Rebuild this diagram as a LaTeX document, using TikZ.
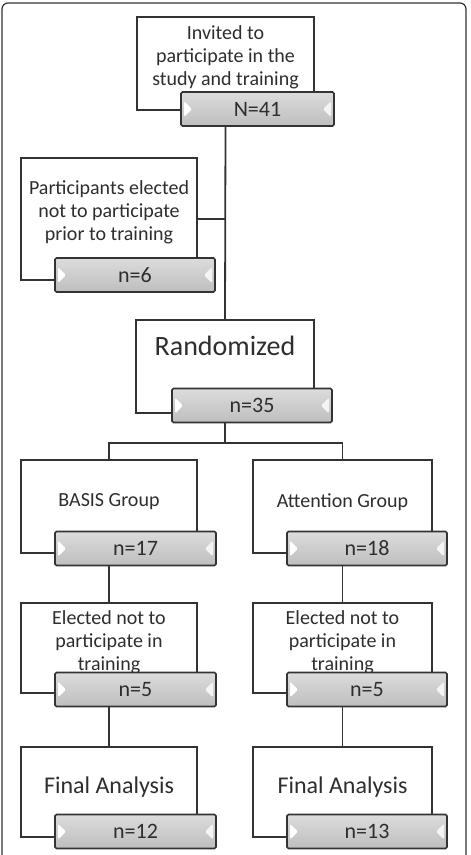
\documentclass[tikz,border=0pt]{standalone}
\usepackage{fontspec}
\setmainfont{Carlito}
\usetikzlibrary{calc}
\definecolor{fLine}{HTML}{333333}
\definecolor{fText}{HTML}{2E2E2E}
\definecolor{fBarTop}{HTML}{DCDCDC}
\definecolor{fBarBot}{HTML}{BEBEBE}
\definecolor{fTip}{HTML}{F4F4F4}

\begin{document}
\begin{tikzpicture}[x=1pt, y=-1pt,
      stagebox/.style={rectangle, draw=fLine, line width=1.4pt, fill=white,
                       inner sep=0pt},
      stagetxt/.style={align=center, text=fText, inner sep=0pt,
                       font=\fontsize{20}{23}\selectfont},
      countbar/.style={rectangle, draw=fLine, line width=1.6pt,
                       rounded corners=1.5pt, minimum height=34pt, inner sep=0pt,
                       top color=fBarTop, bottom color=fBarBot, text=fText,
                       font=\fontsize{22}{24}\selectfont,
                       path picture={
                         \fill[white] ($(path picture bounding box.west)+(3,-8)$)
                           -- ($(path picture bounding box.west)+(3,8)$)
                           -- ($(path picture bounding box.west)+(11,0)$) -- cycle;
                         \fill[fTip] ($(path picture bounding box.east)+(-3,-8)$)
                           -- ($(path picture bounding box.east)+(-3,8)$)
                           -- ($(path picture bounding box.east)+(-11,0)$) -- cycle;
                       }},
      link/.style={draw=fLine, line width=1.8pt}]
    \clip (0,0) rectangle (471,855);
    \draw[fLine, line width=1.2pt, rounded corners=6pt] (2,3) rectangle (466,880);

    \node[stagebox, minimum width=177, minimum height=93] (inv) at (225.5,63.5) {};
    \node[stagetxt] (invtxt) at (225.5,57) {Invited to\\participate in the\\study and training};
    \node[countbar, minimum width=153] (invn) at (257.5,109) {N=41};

    \node[stagebox, minimum width=176, minimum height=122] (part) at (109,219) {};
    \node[stagetxt] (parttxt) at (109,212) {Participants elected\\not to participate\\prior to training};
    \node[countbar, minimum width=160] (partn) at (135,275) {n=6};

    \node[stagebox, minimum width=178, minimum height=93] (rand) at (225,366.5) {};
    \node[stagetxt, font=\fontsize{28}{30}\selectfont] (randtxt) at (225,346) {Randomized};
    \node[countbar, minimum width=160] (randn) at (252,405.5) {n=35};

    \node[stagebox, minimum width=176, minimum height=93] (basis) at (109,506.5) {};
    \node[stagetxt] (basistxt) at (109,502) {BASIS Group};
    \node[countbar, minimum width=161] (basisn) at (135.5,548.5) {n=17};

    \node[stagebox, minimum width=179, minimum height=93] (att) at (342.5,506.5) {};
    \node[stagetxt] (atttxt) at (342.5,502) {Attention Group};
    \node[countbar, minimum width=160] (attn) at (367,548.5) {n=18};

    \node[stagebox, minimum width=176, minimum height=90] (electl) at (109,648) {};
    \node[stagetxt] (electltxt) at (109,642) {Elected not to\\participate in\\training};
    \node[countbar, minimum width=161] (electln) at (135.5,689.5) {n=5};

    \node[stagebox, minimum width=179, minimum height=90] (electr) at (342.5,648) {};
    \node[stagetxt] (electrtxt) at (342.5,642) {Elected not to\\participate in\\training};
    \node[countbar, minimum width=160] (electrn) at (367,689.5) {n=5};

    \node[stagebox, minimum width=176, minimum height=90] (finall) at (109,792) {};
    \node[stagetxt, font=\fontsize{24}{26}\selectfont] (finalltxt) at (109,787) {Final Analysis};
    \node[countbar, minimum width=161] (finalln) at (135.5,831.5) {n=12};

    \node[stagebox, minimum width=179, minimum height=90] (finalr) at (342.5,792) {};
    \node[stagetxt, font=\fontsize{24}{26}\selectfont] (finalrtxt) at (342.5,787) {Final Analysis};
    \node[countbar, minimum width=160] (finalrn) at (367,831.5) {n=13};

    \draw[link] (invn.south -| inv.south) -- (rand.north);
    \draw[link] (part.east) -- (part.east -| rand.north);
    \coordinate (split) at ($(randn.south -| rand.south)+(0,20)$);
    \draw[link] (randn.south -| rand.south) -- (split);
    \draw[link] (basis.north) |- (split) -| (att.north);
    \draw[link] (basisn.south -| basis.south) -- (electl.north);
    \draw[link] (attn.south -| att.south) -- (electr.north);
    \draw[link] (electln.south -| electl.south) -- (finall.north);
    \draw[link] (electrn.south -| electr.south) -- (finalr.north);
  \end{tikzpicture}
\end{document}
